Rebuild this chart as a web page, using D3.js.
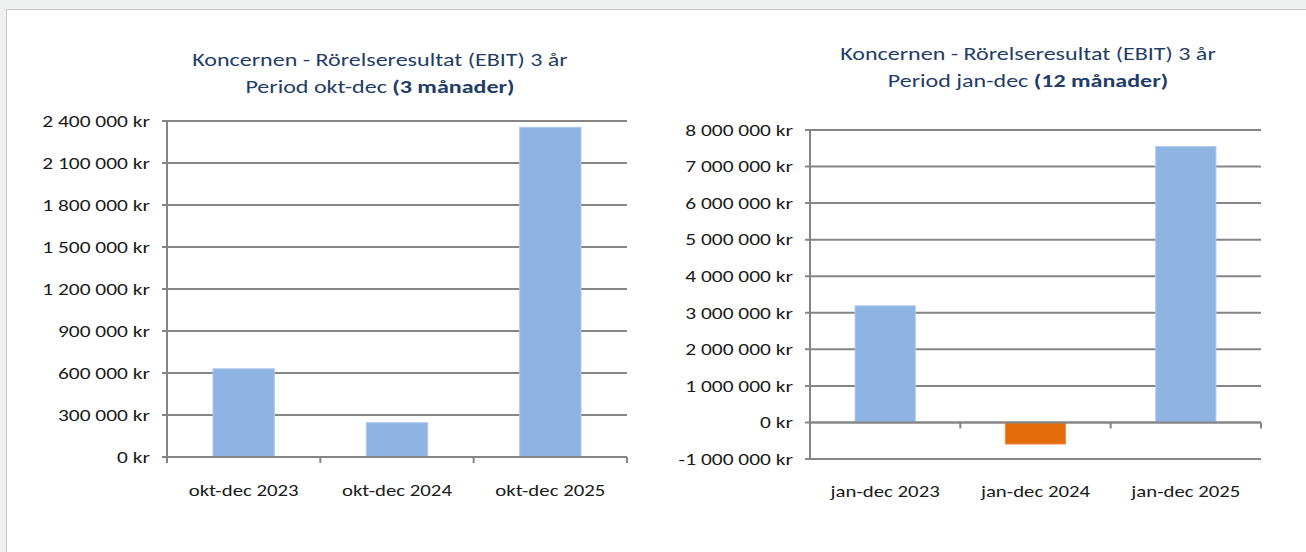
<!doctype html>
<html lang="sv">
<head>
  <meta charset="utf-8">
  <title>EBIT</title>
  <style>
    * { margin: 0; padding: 0; box-sizing: border-box; }
    body { background: #eff1f1; width: 1306px; height: 552px; overflow: hidden; }
    text { font-family: Calibri, Carlito, Lato, sans-serif; }
  </style>
</head>
<body>
  <div class="chart"></div>
  <script src="https://cdn.jsdelivr.net/npm/d3@7"></script>
  <script>
    // ---------------------------------------------------------------
    //@@ data
    const catsQ = ['okt-dec 2023', 'okt-dec 2024', 'okt-dec 2025'];
    const ebitQ = [630000, 245000, 2355000];
    const ticksQ = [0, 300000, 600000, 900000, 1200000, 1500000, 1800000, 2100000, 2400000];

    const catsY = ['jan-dec 2023', 'jan-dec 2024', 'jan-dec 2025'];
    const ebitY = [3190000, -590000, 7545000];
    const ticksY = [-1000000, 0, 1000000, 2000000, 3000000, 4000000, 5000000, 6000000, 7000000, 8000000];

    const titleLine1 = 'Koncernen - Rörelseresultat (EBIT) 3 år';

    // ---------------------------------------------------------------
    //@@ svg
    const W = 1306, H = 552;
    const svg = d3.select('.chart').append('svg')
      .attr('width', W).attr('height', H);

    //@@ white panel
    svg.append('rect')
      .attr('x', 6.5).attr('y', 9.5)
      .attr('width', W).attr('height', H)
      .attr('fill', '#fff')
      .attr('stroke', '#c8c9c9');

    //@@ number format, swedish style
    const sv = d3.formatLocale({decimal: ',', thousands: ' ', grouping: [3], currency: ['', ' kr'], minus: '-'});
    const fmt = v => sv.format(',d')(v) + ' kr';

    const grid = '#858585';
    const titleCol = '#1f3d66';
    const sx = 1.3; // the source text is drawn a bit wide

    function drawChart(cfg) {
      const g = svg.append('g');

      //@@ scales
      const x = d3.scaleBand().domain(cfg.cats).range([cfg.x0, cfg.x1]);
      const y = d3.scaleLinear().domain(cfg.domain).range([cfg.y1, cfg.y0]);

      //@@ title
      const t = g.append('text')
        .attr('x', cfg.tx).attr('text-anchor', 'middle')
        .attr('transform', `translate(${cfg.tx},0) scale(${sx},1) translate(${-cfg.tx},0)`)
        .attr('fill', titleCol).style('font-size', '18.5px');
      t.append('tspan').attr('x', cfg.tx).attr('y', cfg.ty).text(titleLine1);
      const t2 = t.append('tspan').attr('x', cfg.tx).attr('y', cfg.ty + 27);
      t2.append('tspan').text(cfg.sub1);
      t2.append('tspan').style('font-weight', 'bold').text(cfg.sub2);

      //@@ gridlines
      g.append('g').selectAll('line')
        .data(cfg.ticks)
        .join('line')
        .attr('x1', cfg.x0 - 5).attr('x2', cfg.x1)
        .attr('y1', d => y(d)).attr('y2', d => y(d))
        .attr('stroke', grid).attr('stroke-width', 2);

      //@@ bars
      const bw = x.bandwidth() * 0.4;
      g.append('g').selectAll('rect')
        .data(cfg.values)
        .join('rect')
        .attr('x', (d, i) => x(cfg.cats[i]) + (x.bandwidth() - bw) / 2)
        .attr('width', bw)
        .attr('y', d => y(Math.max(0, d)))
        .attr('height', d => Math.abs(y(d) - y(0)))
        .attr('fill', d => d < 0 ? '#e46c0a' : '#8eb4e3')
        .attr('stroke', d => d < 0 ? '#ef8a3a' : '#a9c7ee')
        .attr('stroke-width', 1);

      //@@ y axis labels
      const axY = g.append('g')
        .attr('transform', `translate(${cfg.x0},0)`)
        .call(d3.axisLeft(y).tickValues(cfg.ticks).tickFormat(fmt).tickSize(0).tickPadding(0));
      axY.select('.domain').remove();
      axY.selectAll('text')
        .attr('x', -17 / sx)
        .attr('transform', `scale(${sx},1)`)
        .attr('fill', '#1a1a1a').style('font-size', '16.5px');

      //@@ y axis line
      g.append('line')
        .attr('x1', cfg.x0).attr('x2', cfg.x0)
        .attr('y1', y(cfg.domain[1]) - 1).attr('y2', y(cfg.domain[0]) + 1)
        .attr('stroke', grid).attr('stroke-width', 2);

      //@@ x axis line at zero + boundary ticks
      const edges = cfg.cats.map(c => x(c)).concat([cfg.x1]);
      g.append('line')
        .attr('x1', cfg.x0).attr('x2', cfg.x1)
        .attr('y1', y(0)).attr('y2', y(0))
        .attr('stroke', grid).attr('stroke-width', 2);
      g.append('g').selectAll('line')
        .data(edges)
        .join('line')
        .attr('x1', d => d).attr('x2', d => d)
        .attr('y1', y(0)).attr('y2', y(0) + 6)
        .attr('stroke', grid).attr('stroke-width', 2);

      //@@ category labels
      const axX = g.append('g')
        .attr('transform', `translate(0,${cfg.ly})`)
        .call(d3.axisBottom(x).tickSize(0).tickPadding(0));
      axX.select('.domain').remove();
      axX.selectAll('text')
        .attr('transform', `scale(${sx},1)`)
        .attr('fill', '#1a1a1a').style('font-size', '16px');
    }

    drawChart({
      cats: catsQ, values: ebitQ, ticks: ticksQ, domain: [0, 2400000],
      x0: 167, x1: 627, y0: 121, y1: 457,
      tx: 380, ty: 66, sub1: 'Period okt-dec ', sub2: '(3 månader)', ly: 485
    });

    drawChart({
      cats: catsY, values: ebitY, ticks: ticksY, domain: [-1000000, 8000000],
      x0: 810, x1: 1261, y0: 130, y1: 459,
      tx: 1028, ty: 60, sub1: 'Period jan-dec ', sub2: '(12 månader)', ly: 486
    });
  </script>
</body>
</html>
